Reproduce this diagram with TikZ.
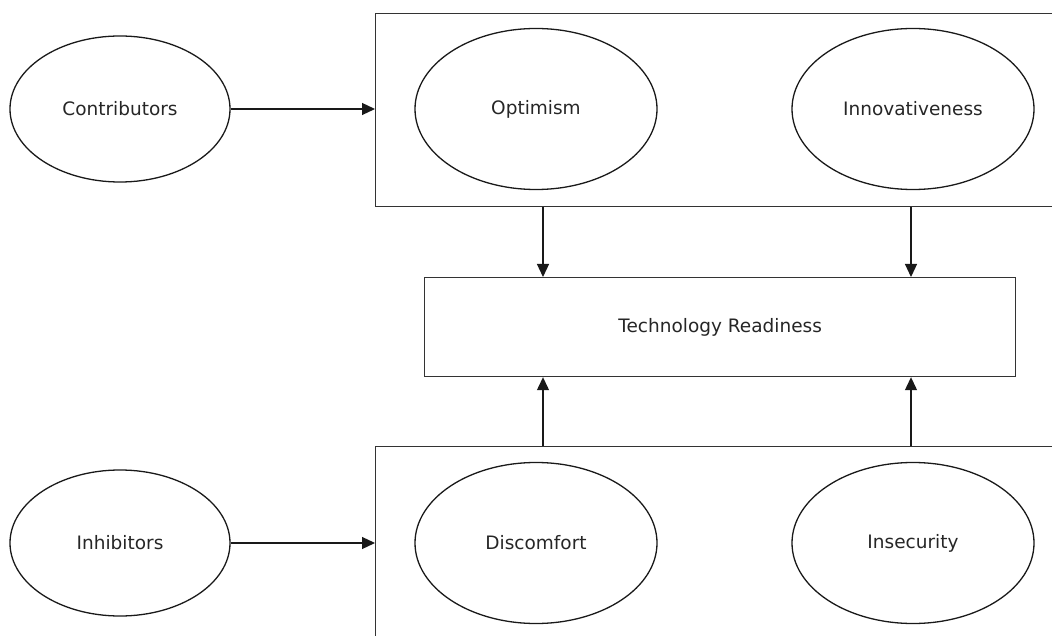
\documentclass[tikz,border=0pt]{standalone}
\usepackage{fontspec}
\setmainfont{DejaVu Sans}
\usetikzlibrary{arrows.meta,calc,shapes.geometric}
\tikzset{
  oval/.style={draw, ellipse, line width=1.3pt, draw=black!90, inner sep=0pt, font=\fontsize{18.5}{22}\selectfont, text=black!85},
  grpbox/.style={draw, rectangle, line width=1.2pt, draw=black!80, inner sep=0pt},
  trbox/.style={draw, rectangle, line width=1.2pt, draw=black!80, inner sep=0pt, font=\fontsize{18.5}{22}\selectfont, text=black!85},
  conn/.style={line width=1.2pt, draw=black!90, -{Triangle[length=13pt,width=12pt]}}
}
\begin{document}
\begin{tikzpicture}[x=1pt,y=-1pt]
\useasboundingbox (0,0) rectangle (1052,636);
\clip (0,0) rectangle (1052,636);
% group boxes (right / bottom sides run out of the picture)
\node[grpbox, minimum width=700pt, minimum height=193pt, anchor=north west] (topgrp) at (375,13) {};
\node[grpbox, minimum width=700pt, minimum height=230pt, anchor=north west] (botgrp) at (375,446) {};
% ellipses
\node[oval, minimum width=220pt, minimum height=146pt] (contrib) at (120,109) {Contributors};
\node[oval, minimum width=220pt, minimum height=146pt] (inhib) at (120,543) {Inhibitors};
\node[oval, minimum width=242pt, minimum height=161pt] (opt) at (536,109) {Optimism};
\node[oval, minimum width=242pt, minimum height=161pt] (innov) at (913,109) {Innovativeness};
\node[oval, minimum width=242pt, minimum height=161pt] (disc) at (536,543) {Discomfort};
\node[oval, minimum width=242pt, minimum height=161pt] (insec) at (913,543) {Insecurity};
% technology readiness
\node[trbox, minimum width=591pt, minimum height=99pt, anchor=north west] (tr) at (424,277) {Technology Readiness};
% connector columns
\coordinate (c1) at (543,0);
\coordinate (c2) at (911,0);
% connectors
\draw[conn] (contrib.east) -- (contrib.east -| topgrp.west);
\draw[conn] (inhib.east) -- (inhib.east -| botgrp.west);
\draw[conn] (topgrp.south -| c1) -- (tr.north -| c1);
\draw[conn] (topgrp.south -| c2) -- (tr.north -| c2);
\draw[conn] (botgrp.north -| c1) -- (tr.south -| c1);
\draw[conn] (botgrp.north -| c2) -- (tr.south -| c2);
\end{tikzpicture}
\end{document}
